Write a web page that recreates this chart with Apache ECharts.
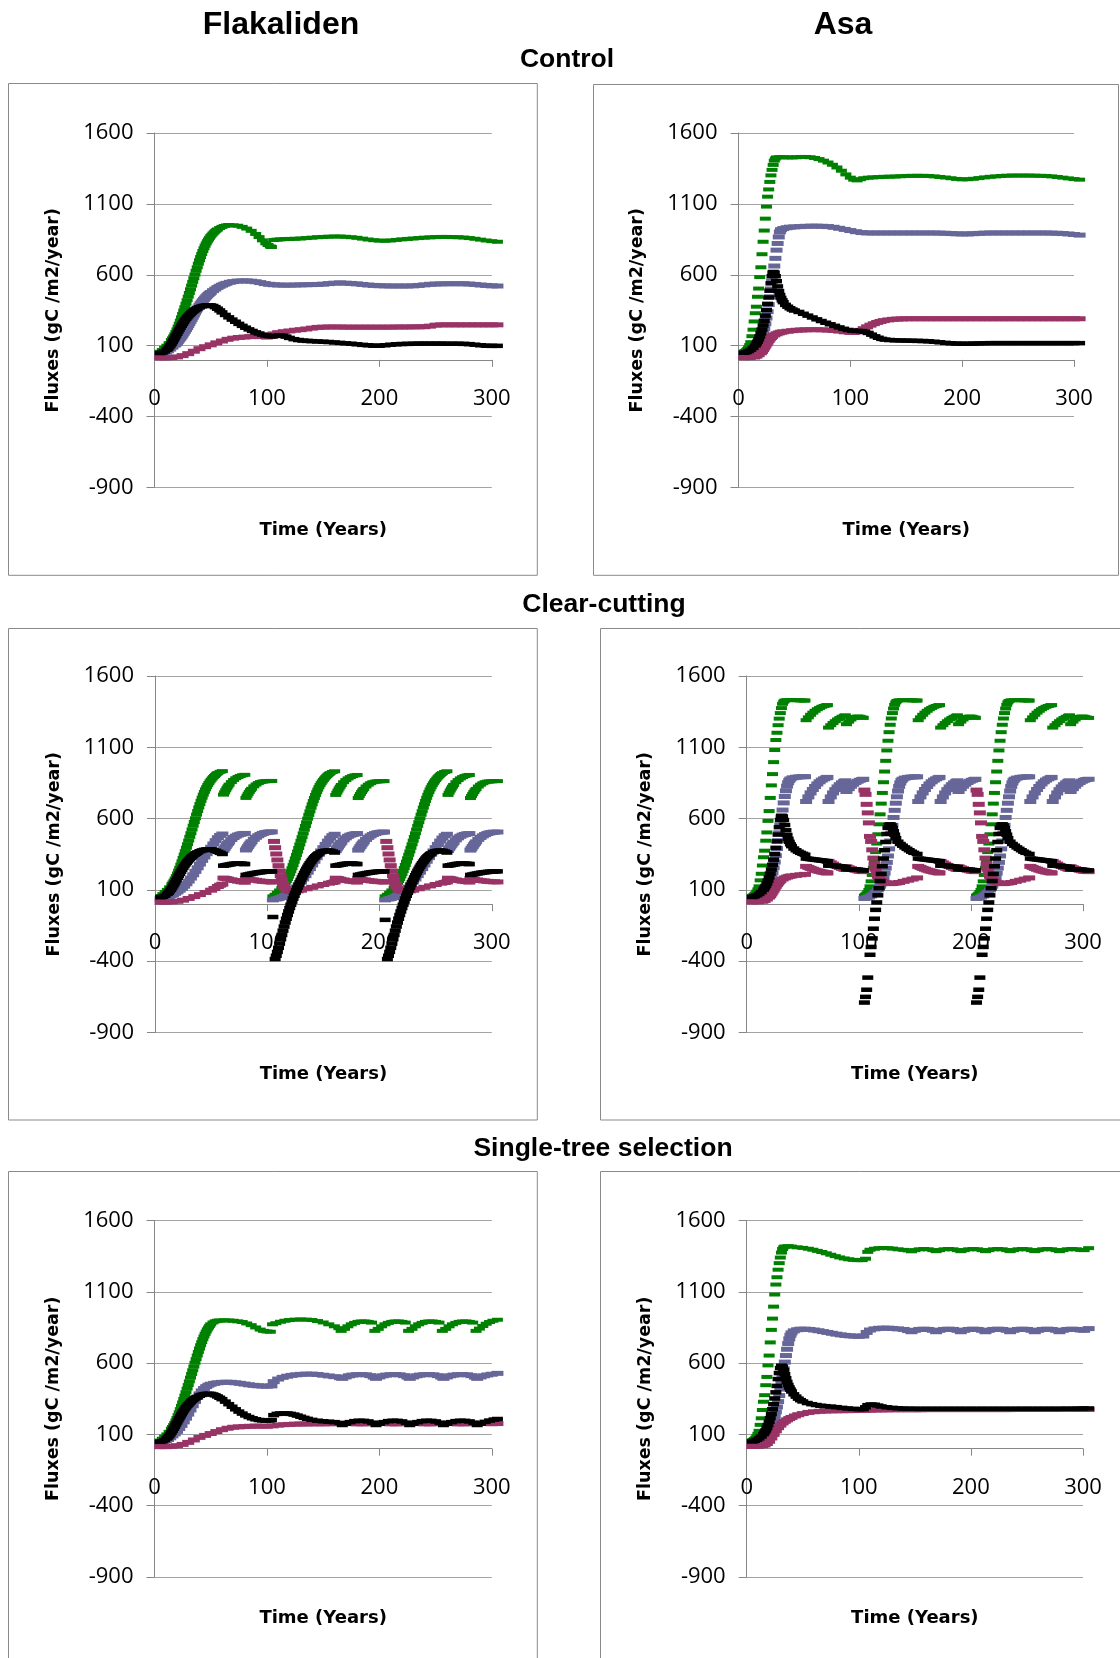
<!DOCTYPE html>
<html>
<head>
<meta charset="utf-8">
<title>Carbon fluxes – Flakaliden and Asa</title>
<script src="https://cdn.jsdelivr.net/npm/echarts@6/dist/echarts.min.js"></script>
<style>
  html, body { margin: 0; padding: 0; background: #ffffff; }
  #chart { width: 1120px; height: 1658px; }
</style>
</head>
<body>
<div id="chart"></div>
<script>
// Axis ranges and ticks shared by every panel
const yMin = -900, yMax = 1600, yStep = 500;
const xMin = 0, xMax = 300, xStep = 100;
const yTickValues = [-900, -400, 100, 600, 1100, 1600];
const xTickValues = [0, 100, 200, 300];

// Series: GPP (green), autotrophic respiration Ra (blue-grey),
// heterotrophic respiration Rh (maroon), NEP (black); gC/m2/year vs year

// ---------- Flakaliden, control ----------
const flCtrlGpp = [[5,57],[7,70],[9,85],[11,100],[13,118],[15,140],[16,152],[17,165],[18,180],[19,197],[20,215],[21,235],[22,255],[23,277],[24,300],[25,324],[26,348],[27,372],[28,396],[29,421],[30,446],[31,472],[32,498],[33,524],[34,550],[35,576],[36,602],[37,628],[38,653],[39,678],[40,702],[41,725],[42,747],[43,768],[44,787],[45,805],[46,821],[47,836],[48,849],[49,861],[50,872],[51,882],[52,891],[53,899],[54,907],[55,914],[56,920],[58,930],[60,938],[62,944],[64,948],[66,951],[70,949],[74,946],[78,938],[82,926],[86,910],[90,888],[93,866],[96,843],[99,822],[101,810],[103,800],[104,796],[106,845],[109,848],[112,850],[116,852],[120,853],[125,854],[130,856],[135,859],[140,862],[145,865],[150,867],[155,869],[160,870],[165,870],[170,868],[175,865],[180,861],[185,855],[190,849],[195,844],[200,841],[205,840],[210,842],[215,846],[220,850],[225,853],[230,856],[235,859],[240,862],[245,864],[250,866],[255,867],[260,867],[265,866],[270,865],[275,863],[280,859],[285,854],[290,848],[295,842],[300,837],[305,833]];
const flCtrlRa = [[5,42],[8,47],[10,54],[12,64],[14,76],[16,90],[18,104],[19,112],[20,121],[21,131],[22,141],[23,152],[24,163],[25,175],[26,188],[27,201],[28,214],[29,228],[30,242],[31,256],[32,271],[33,286],[34,301],[35,316],[36,331],[37,345],[38,359],[39,372],[40,384],[41,396],[42,407],[43,417],[44,427],[45,436],[46,445],[47,453],[48,461],[49,468],[50,475],[52,488],[54,499],[56,510],[58,519],[60,527],[62,534],[64,540],[67,547],[70,552],[74,556],[78,557],[82,557],[86,555],[90,551],[94,545],[98,538],[102,533],[106,530],[110,528],[115,527],[120,527],[125,528],[130,529],[135,530],[140,531],[145,532],[150,534],[155,538],[160,541],[165,543],[170,541],[175,539],[180,536],[185,532],[190,528],[195,525],[200,523],[205,522],[210,521],[215,521],[220,521],[225,521],[230,522],[235,525],[240,529],[245,533],[250,535],[255,536],[260,537],[265,537],[270,537],[275,537],[280,535],[285,532],[290,528],[295,525],[300,522],[305,521]];
const flCtrlRh = [[5,14],[10,14],[15,16],[20,21],[25,30],[30,44],[35,61],[40,79],[45,93],[50,106],[55,120],[60,133],[65,145],[70,153],[75,158],[80,161],[85,164],[90,166],[95,164],[100,161],[103,165],[106,183],[110,192],[115,199],[120,204],[125,209],[130,213],[135,218],[140,224],[145,229],[150,231],[155,232],[160,232],[165,232],[170,231],[175,231],[180,231],[185,231],[190,231],[195,231],[200,231],[205,231],[210,231],[215,232],[220,232],[225,232],[230,233],[235,233],[240,234],[245,238],[250,245],[255,247],[260,247],[265,247],[270,247],[275,247],[280,247],[285,247],[290,247],[295,247],[300,247],[305,247]];
const flCtrlNep = [[5,48],[7,52],[9,60],[11,72],[12,80],[13,90],[14,101],[15,113],[16,126],[17,140],[18,154],[19,169],[20,184],[21,199],[22,213],[23,227],[24,241],[25,254],[26,267],[27,279],[28,290],[29,300],[30,309],[31,318],[32,326],[33,334],[34,341],[35,347],[36,353],[37,358],[38,363],[40,371],[42,377],[44,381],[46,384],[48,385],[50,384],[52,380],[54,372],[56,361],[58,349],[60,335],[63,317],[66,300],[69,284],[72,269],[75,254],[78,240],[81,227],[84,215],[87,204],[90,194],[93,186],[96,178],[99,172],[102,168],[105,166],[108,169],[111,172],[114,170],[117,164],[120,155],[124,146],[128,140],[132,136],[136,134],[140,132],[145,130],[150,128],[155,126],[160,123],[165,120],[170,117],[175,114],[180,110],[185,106],[190,103],[195,100],[200,100],[205,103],[210,107],[215,110],[220,112],[225,113],[230,114],[235,115],[240,115],[245,115],[250,115],[255,115],[260,114],[265,114],[270,114],[275,113],[280,111],[285,107],[290,103],[295,100],[300,99],[305,99]];

// ---------- Asa, control ----------
const asCtrlGpp = [[5,58],[6,62],[7,68],[8,76],[9,88],[10,104],[11,125],[12,167],[13,213],[14,271],[15,329],[16,375],[17,445],[18,503],[19,584],[20,653],[21,745],[22,833],[23,912],[24,996],[25,1081],[26,1151],[27,1202],[28,1255],[29,1301],[30,1340],[31,1375],[32,1405],[33,1420],[34,1428],[37,1430],[40,1429],[44,1428],[48,1428],[52,1429],[56,1431],[60,1431],[64,1429],[68,1424],[72,1416],[76,1405],[80,1392],[84,1376],[88,1357],[92,1334],[96,1308],[100,1285],[103,1271],[106,1266],[109,1274],[112,1281],[116,1285],[120,1287],[125,1289],[130,1291],[135,1292],[140,1293],[145,1295],[150,1297],[155,1298],[160,1298],[165,1298],[170,1297],[175,1294],[180,1290],[185,1286],[190,1281],[195,1276],[200,1273],[205,1274],[210,1277],[215,1282],[220,1287],[225,1291],[230,1294],[235,1297],[240,1299],[245,1300],[250,1300],[255,1300],[260,1300],[265,1299],[270,1298],[275,1297],[280,1294],[285,1290],[290,1285],[295,1280],[300,1275],[305,1271]];
const asCtrlRa = [[5,45],[7,48],[9,53],[11,60],[13,70],[15,84],[17,102],[18,114],[19,128],[20,145],[21,165],[22,190],[23,220],[24,255],[25,295],[26,340],[27,390],[28,445],[29,500],[30,555],[31,610],[32,662],[33,716],[34,774],[35,821],[36,867],[37,902],[38,918],[40,926],[43,932],[46,936],[50,938],[55,940],[60,942],[65,943],[70,943],[75,942],[80,940],[85,935],[90,928],[95,920],[100,912],[105,904],[110,898],[115,895],[120,895],[125,895],[130,895],[135,895],[140,895],[145,895],[150,895],[155,895],[160,895],[165,895],[170,895],[175,895],[180,894],[185,893],[190,891],[195,889],[200,888],[205,888],[210,890],[215,892],[220,894],[225,895],[230,895],[235,895],[240,895],[245,895],[250,895],[255,895],[260,895],[265,895],[270,895],[275,895],[280,894],[285,893],[290,891],[295,888],[300,884],[305,880]];
const asCtrlRh = [[5,15],[10,16],[14,20],[16,26],[18,36],[20,50],[21,60],[22,72],[23,85],[24,98],[25,112],[26,125],[27,137],[28,148],[29,157],[30,165],[32,176],[34,184],[36,190],[38,195],[40,198],[44,202],[48,206],[52,209],[56,211],[60,212],[65,213],[70,213],[75,212],[80,210],[85,207],[90,203],[95,198],[100,194],[103,193],[106,198],[109,208],[112,220],[115,233],[118,245],[121,255],[124,264],[127,271],[130,277],[134,282],[138,286],[142,288],[146,289],[150,290],[155,290],[160,290],[165,290],[170,290],[175,290],[180,290],[185,290],[190,290],[195,290],[200,290],[205,290],[210,290],[215,290],[220,290],[225,290],[230,290],[235,290],[240,290],[245,290],[250,290],[255,290],[260,290],[265,290],[270,290],[275,290],[280,290],[285,290],[290,290],[295,290],[300,290],[305,290]];
const asCtrlNep = [[5,50],[7,55],[9,62],[11,72],[13,85],[15,102],[16,114],[17,128],[18,145],[19,165],[20,188],[21,214],[22,243],[23,276],[24,312],[25,352],[26,395],[27,440],[28,488],[29,540],[30,590],[31,620],[32,615],[33,590],[34,555],[35,518],[36,485],[37,458],[38,437],[39,420],[40,407],[42,388],[44,375],[46,364],[48,355],[50,348],[54,338],[58,325],[62,312],[66,299],[70,286],[74,274],[78,262],[82,251],[86,240],[90,229],[94,219],[98,211],[102,206],[106,204],[110,203],[113,198],[116,190],[119,178],[122,166],[125,156],[128,148],[131,143],[135,140],[140,138],[145,137],[150,136],[155,135],[160,134],[165,133],[170,131],[175,128],[180,124],[185,120],[190,117],[195,115],[200,114],[205,114],[210,115],[215,116],[220,117],[225,118],[230,118],[235,118],[240,118],[245,118],[250,118],[255,118],[260,118],[265,118],[270,118],[275,118],[280,118],[285,118],[290,118],[295,118],[300,118],[305,118]];

// ---------- Flakaliden, clear-cutting (thinnings and a final cut every 100 years) ----------
const flCcGpp = [[5,57],[7,70],[9,85],[11,100],[13,118],[15,140],[16,152],[17,165],[18,180],[19,197],[20,215],[21,235],[22,255],[23,277],[24,300],[25,324],[26,348],[27,372],[28,396],[29,421],[30,446],[31,472],[32,498],[33,524],[34,550],[35,576],[36,602],[37,628],[38,653],[39,678],[40,702],[41,725],[42,747],[43,768],[44,787],[45,805],[46,821],[47,836],[48,849],[49,861],[50,872],[51,882],[52,891],[53,899],[54,907],[55,914],[56,920],[58,928],[60,933],
  [61,768],[62,784],[63,799],[64,813],[65,826],[66,838],[68,856],[70,871],[72,883],[74,892],[76,899],[78,904],[80,907],
  [81,745],[82,760],[83,774],[84,787],[85,799],[86,809],[88,826],[90,839],[92,849],[94,856],[96,860],[98,862],[100,863],[102,864],[104,864],
  [105,55],[107,66],[109,80],[111,96],[113,114],[115,136],[116,148],[117,161],[118,176],[119,193],[120,211],[121,231],[122,252],[123,274],[124,297],[125,321],[126,345],[127,369],[128,394],[129,419],[130,444],[131,470],[132,496],[133,522],[134,548],[135,574],[136,600],[137,626],[138,651],[139,676],[140,700],[141,723],[142,745],[143,766],[144,785],[145,803],[146,820],[147,835],[148,848],[149,860],[150,871],[151,881],[152,890],[153,898],[154,906],[155,913],[156,919],[158,927],[160,932],
  [161,766],[162,782],[163,797],[164,811],[165,824],[166,836],[168,855],[170,870],[172,882],[174,891],[176,898],[178,903],[180,906],
  [181,744],[182,759],[183,773],[184,786],[185,798],[186,808],[188,825],[190,838],[192,848],[194,855],[196,859],[198,861],[200,862],[202,863],[204,863],
  [205,55],[207,66],[209,80],[211,96],[213,115],[215,137],[216,149],[217,162],[218,177],[219,194],[220,212],[221,232],[222,253],[223,275],[224,298],[225,322],[226,346],[227,370],[228,395],[229,420],[230,445],[231,471],[232,497],[233,523],[234,549],[235,575],[236,601],[237,627],[238,652],[239,677],[240,701],[241,724],[242,746],[243,767],[244,786],[245,804],[246,820],[247,835],[248,848],[249,860],[250,871],[251,881],[252,890],[253,898],[254,906],[255,913],[256,919],[258,927],[260,932],
  [261,766],[262,782],[263,797],[264,811],[265,824],[266,836],[268,855],[270,870],[272,882],[274,891],[276,898],[278,903],[280,906],
  [281,744],[282,759],[283,773],[284,786],[285,798],[286,808],[288,825],[290,838],[292,848],[294,855],[296,859],[298,861],[300,862],[302,863],[305,863]];
const flCcRa = [[5,38],[8,42],[10,46],[12,52],[14,58],[16,66],[18,76],[20,86],[22,98],[24,111],[26,126],[28,143],[30,162],[32,183],[34,206],[36,230],[38,255],[40,281],[42,307],[44,331],[46,354],[48,377],[50,399],[52,422],[54,445],[56,466],[58,482],[60,492],
  [61,378],[62,391],[63,403],[64,415],[65,426],[66,436],[68,453],[70,467],[72,477],[74,485],[76,490],[78,494],[80,496],
  [81,380],[82,393],[83,405],[84,417],[85,428],[86,438],[88,455],[90,469],[92,480],[94,489],[96,496],[98,501],[100,504],[102,506],[104,507],
  [105,30],[108,36],[110,40],[112,46],[114,52],[116,60],[118,70],[120,80],[122,92],[124,105],[126,120],[128,137],[130,156],[132,177],[134,200],[136,224],[138,249],[140,275],[142,301],[144,326],[146,350],[148,373],[150,396],[152,419],[154,442],[156,463],[158,480],[160,490],
  [161,376],[162,389],[163,401],[164,413],[165,424],[166,434],[168,451],[170,465],[172,476],[174,484],[176,489],[178,493],[180,495],
  [181,379],[182,392],[183,404],[184,416],[185,427],[186,437],[188,454],[190,468],[192,479],[194,488],[196,495],[198,500],[200,503],[202,505],[204,506],
  [205,30],[208,36],[210,40],[212,46],[214,52],[216,60],[218,70],[220,80],[222,92],[224,105],[226,120],[228,137],[230,156],[232,177],[234,200],[236,224],[238,249],[240,275],[242,301],[244,326],[246,350],[248,373],[250,396],[252,419],[254,442],[256,463],[258,480],[260,490],
  [261,376],[262,389],[263,401],[264,413],[265,424],[266,434],[268,451],[270,465],[272,476],[274,484],[276,489],[278,493],[280,495],
  [281,379],[282,392],[283,404],[284,416],[285,427],[286,437],[288,454],[290,468],[292,479],[294,488],[296,495],[298,500],[300,503],[302,505],[305,506]];
const flCcRh = [[5,14],[10,14],[15,16],[20,20],[25,28],[30,40],[35,53],[40,67],[45,82],[50,98],[53,110],[56,124],[58,133],[60,140],
  [61,183],[63,180],[65,176],[68,171],[71,166],[74,161],[77,157],[80,154],
  [81,181],[84,176],[87,171],[90,167],[93,163],[96,160],[99,158],[102,157],[104,156],
  [105,157],[106,440],[107,396],[108,352],[109,310],[110,270],[111,233],[112,200],[113,170],[114,145],[115,125],[116,110],[117,100],[119,93],[121,90],[124,90],[127,93],[130,98],[135,108],[140,118],[145,128],[150,138],[155,147],[158,152],[160,156],
  [161,182],[163,179],[165,175],[168,170],[171,165],[174,161],[177,158],[180,155],
  [181,180],[184,175],[187,170],[190,166],[193,163],[196,160],[199,158],[202,157],[204,156],
  [205,157],[206,440],[207,396],[208,352],[209,310],[210,270],[211,233],[212,200],[213,170],[214,145],[215,125],[216,110],[217,100],[219,93],[221,90],[224,90],[227,93],[230,98],[235,108],[240,118],[245,128],[250,138],[255,147],[258,152],[260,156],
  [261,182],[263,179],[265,175],[268,170],[271,165],[274,161],[277,158],[280,155],
  [281,180],[284,175],[287,170],[290,166],[293,163],[296,160],[299,158],[302,157],[305,156]];
const flCcNep = [[5,48],[7,52],[9,60],[11,72],[12,80],[13,90],[14,101],[15,113],[16,126],[17,140],[18,154],[19,169],[20,184],[21,199],[22,213],[23,227],[24,241],[25,254],[26,267],[27,279],[28,290],[29,300],[30,309],[31,318],[32,326],[33,334],[34,341],[35,347],[36,353],[37,358],[38,363],[40,371],[42,377],[44,381],[46,384],[48,385],[50,384],[52,380],[54,374],[56,367],[58,360],[60,352],
  [61,270],[63,273],[65,276],[67,279],[69,282],[71,284],[73,285],[75,285],[77,284],[79,282],[80,281],
  [81,205],[83,208],[85,212],[87,215],[89,218],[91,221],[93,223],[95,225],[97,227],[99,228],[101,229],[103,230],[104,230],
  [105,-90],[107,-385],[108,-362],[109,-335],[110,-306],[111,-276],[112,-246],[113,-216],[114,-186],[115,-157],[116,-129],[117,-102],[118,-76],[119,-51],[120,-27],[121,-4],[122,18],[123,39],[124,59],[125,79],[126,98],[127,117],[128,135],[129,153],[130,170],[131,187],[132,203],[133,219],[134,234],[135,248],[136,262],[137,275],[138,287],[139,298],[140,309],[141,319],[142,328],[143,336],[144,343],[145,350],[146,356],[148,365],[150,371],[152,375],[154,376],[156,374],[158,369],[160,362],
  [161,270],[163,273],[165,276],[167,279],[169,282],[171,284],[173,285],[175,285],[177,284],[179,282],[180,281],
  [181,205],[183,208],[185,212],[187,215],[189,218],[191,221],[193,223],[195,225],[197,227],[199,228],[201,229],[203,230],[204,230],
  [205,-110],[207,-385],[208,-362],[209,-335],[210,-306],[211,-276],[212,-246],[213,-216],[214,-186],[215,-157],[216,-129],[217,-102],[218,-76],[219,-51],[220,-27],[221,-4],[222,18],[223,39],[224,59],[225,79],[226,98],[227,117],[228,135],[229,153],[230,170],[231,187],[232,203],[233,219],[234,234],[235,248],[236,262],[237,275],[238,287],[239,298],[240,309],[241,319],[242,328],[243,336],[244,343],[245,350],[246,356],[248,365],[250,371],[252,375],[254,376],[256,374],[258,369],[260,362],
  [261,270],[263,273],[265,276],[267,279],[269,282],[271,284],[273,285],[275,285],[277,284],[279,282],[280,281],
  [281,205],[283,208],[285,212],[287,215],[289,218],[291,221],[293,223],[295,225],[297,227],[299,228],[301,229],[303,230],[305,230]];

// ---------- Asa, clear-cutting ----------
const asCcGpp = [[5,58],[6,62],[7,68],[8,76],[9,88],[10,104],[11,125],[12,167],[13,213],[14,271],[15,329],[16,375],[17,445],[18,503],[19,584],[20,653],[21,745],[22,833],[23,912],[24,996],[25,1081],[26,1151],[27,1202],[28,1255],[29,1301],[30,1340],[31,1375],[32,1405],[33,1420],[34,1428],[36,1431],[39,1432],[42,1431],[45,1430],[48,1429],[51,1428],[52,1428],
  [53,1290],[55,1310],[57,1328],[59,1343],[61,1356],[63,1367],[65,1376],[67,1384],[69,1390],[71,1394],[72,1396],
  [73,1238],[75,1255],[77,1270],[79,1283],[81,1295],[83,1305],[85,1314],[87,1321],[88,1324],
  [89,1262],[91,1280],[93,1295],[95,1306],[97,1313],[99,1316],[101,1314],[103,1309],[104,1306],
  [105,60],[106,66],[107,74],[108,85],[109,100],[110,125],[111,160],[112,205],[113,255],[114,310],[115,365],[116,425],[117,490],[118,560],[119,630],[120,705],[121,780],[122,855],[123,930],[124,1005],[125,1078],[126,1146],[127,1206],[128,1258],[129,1302],[130,1340],[131,1372],[132,1398],[133,1415],[134,1425],[136,1430],[139,1431],[142,1431],[145,1430],[148,1429],[151,1428],[152,1428],
  [153,1290],[155,1310],[157,1328],[159,1343],[161,1356],[163,1367],[165,1376],[167,1384],[169,1390],[171,1394],[172,1396],
  [173,1238],[175,1255],[177,1270],[179,1283],[181,1295],[183,1305],[185,1314],[187,1321],[188,1324],
  [189,1262],[191,1280],[193,1295],[195,1306],[197,1313],[199,1316],[201,1314],[203,1309],[204,1306],
  [205,60],[206,66],[207,74],[208,85],[209,100],[210,125],[211,160],[212,205],[213,255],[214,310],[215,365],[216,425],[217,490],[218,560],[219,630],[220,705],[221,780],[222,855],[223,930],[224,1005],[225,1078],[226,1146],[227,1206],[228,1258],[229,1302],[230,1340],[231,1372],[232,1398],[233,1415],[234,1425],[236,1430],[239,1431],[242,1431],[245,1430],[248,1429],[251,1428],[252,1428],
  [253,1290],[255,1310],[257,1328],[259,1343],[261,1356],[263,1367],[265,1376],[267,1384],[269,1390],[271,1394],[272,1396],
  [273,1238],[275,1255],[277,1270],[279,1283],[281,1295],[283,1305],[285,1314],[287,1321],[288,1324],
  [289,1262],[291,1280],[293,1295],[295,1306],[297,1313],[299,1316],[301,1314],[303,1309],[305,1306]];
const asCcRa = [[5,45],[7,48],[9,53],[11,60],[13,70],[15,84],[17,102],[18,114],[19,128],[20,145],[21,165],[22,190],[23,220],[24,255],[25,295],[26,340],[27,390],[28,445],[29,500],[30,555],[31,610],[32,660],[33,710],[34,755],[35,795],[36,828],[37,852],[38,868],[39,878],[41,886],[44,890],[47,893],[50,894],[52,894],
  [53,720],[55,752],[57,780],[59,804],[61,825],[63,843],[65,858],[67,870],[69,879],[71,886],[72,889],
  [73,720],[75,752],[77,780],[79,803],[81,822],[83,838],[85,851],[87,861],[88,865],
  [89,790],[91,810],[93,827],[95,841],[97,853],[99,862],[101,869],[103,874],[104,876],
  [105,40],[107,44],[109,50],[111,58],[113,68],[115,82],[117,100],[118,112],[119,126],[120,143],[121,163],[122,188],[123,218],[124,253],[125,293],[126,338],[127,388],[128,443],[129,498],[130,553],[131,608],[132,658],[133,708],[134,753],[135,793],[136,826],[137,850],[138,866],[139,876],[141,884],[144,889],[147,892],[150,893],[152,893],
  [153,720],[155,752],[157,780],[159,804],[161,825],[163,843],[165,858],[167,870],[169,879],[171,886],[172,889],
  [173,720],[175,752],[177,780],[179,803],[181,822],[183,838],[185,851],[187,861],[188,865],
  [189,790],[191,810],[193,827],[195,841],[197,853],[199,862],[201,869],[203,874],[204,876],
  [205,40],[207,44],[209,50],[211,58],[213,68],[215,82],[217,100],[218,112],[219,126],[220,143],[221,163],[222,188],[223,218],[224,253],[225,293],[226,338],[227,388],[228,443],[229,498],[230,553],[231,608],[232,658],[233,708],[234,753],[235,793],[236,826],[237,850],[238,866],[239,876],[241,884],[244,889],[247,892],[250,893],[252,893],
  [253,720],[255,752],[257,780],[259,804],[261,825],[263,843],[265,858],[267,870],[269,879],[271,886],[272,889],
  [273,720],[275,752],[277,780],[279,803],[281,822],[283,838],[285,851],[287,861],[288,865],
  [289,790],[291,810],[293,827],[295,841],[297,853],[299,862],[301,869],[303,874],[305,876]];
const asCcRh = [[5,15],[10,16],[14,20],[16,26],[18,36],[20,50],[21,60],[22,72],[23,85],[24,98],[25,112],[26,125],[27,137],[28,148],[29,157],[30,165],[32,176],[34,184],[36,190],[38,195],[40,198],[44,202],[48,206],[52,209],
  [53,265],[55,258],[57,251],[59,245],[61,239],[63,234],[65,230],[67,226],[69,223],[71,220],[72,219],
  [73,300],[75,290],[77,281],[79,272],[81,264],[83,257],[85,251],[87,246],[88,244],
  [89,262],[91,255],[93,249],[95,243],[97,238],[99,234],[101,231],[103,229],[104,228],
  [105,800],[106,770],[107,700],[108,640],[109,570],[110,475],[111,440],[112,381],[113,323],[114,280],[115,245],[116,215],[117,195],[118,180],[120,166],[122,156],[124,150],[126,146],[128,144],[130,145],[133,148],[136,152],[140,160],[144,168],[148,176],[152,184],
  [153,265],[155,258],[157,251],[159,245],[161,239],[163,234],[165,230],[167,226],[169,223],[171,220],[172,219],
  [173,300],[175,290],[177,281],[179,272],[181,264],[183,257],[185,251],[187,246],[188,244],
  [189,262],[191,255],[193,249],[195,243],[197,238],[199,234],[201,231],[203,229],[204,228],
  [205,800],[206,770],[207,700],[208,640],[209,570],[210,475],[211,440],[212,381],[213,323],[214,280],[215,245],[216,215],[217,195],[218,180],[220,166],[222,156],[224,150],[226,146],[228,144],[230,145],[233,148],[236,152],[240,160],[244,168],[248,176],[252,184],
  [253,265],[255,258],[257,251],[259,245],[261,239],[263,234],[265,230],[267,226],[269,223],[271,220],[272,219],
  [273,300],[275,290],[277,281],[279,272],[281,264],[283,257],[285,251],[287,246],[288,244],
  [289,262],[291,255],[293,249],[295,243],[297,238],[299,234],[301,231],[303,229],[305,228]];
const asCcNep = [[5,50],[7,55],[9,62],[11,72],[13,85],[15,102],[16,114],[17,128],[18,145],[19,165],[20,188],[21,214],[22,243],[23,276],[24,312],[25,352],[26,395],[27,440],[28,488],[29,540],[30,590],[31,620],[32,615],[33,590],[34,555],[35,518],[36,485],[37,458],[38,437],[39,420],[40,407],[42,390],[44,378],[46,368],[48,360],[50,353],[52,347],
  [53,320],[55,318],[57,316],[59,314],[61,312],[63,310],[65,308],[67,306],[69,304],[71,302],[72,301],
  [73,270],[75,270],[77,269],[79,268],[81,267],[83,265],[85,263],[87,261],[88,260],
  [89,245],[91,245],[93,245],[95,244],[97,243],[99,242],[101,240],[103,238],[104,237],
  [105,-690],[106,-650],[107,-600],[108,-515],[110,-355],[111,-300],[112,-240],[113,-172],[114,-102],[115,-40],[116,12],[117,62],[118,112],[119,162],[120,212],[121,266],[122,320],[123,378],[124,436],[125,492],[126,535],[127,556],[128,560],[129,552],[130,535],[131,512],[132,487],[133,463],[135,438],[137,422],[139,410],[141,398],[143,388],[145,378],[147,368],[149,360],[152,352],
  [153,320],[155,318],[157,316],[159,314],[161,312],[163,310],[165,308],[167,306],[169,304],[171,302],[172,301],
  [173,270],[175,270],[177,269],[179,268],[181,267],[183,265],[185,263],[187,261],[188,260],
  [189,245],[191,245],[193,245],[195,244],[197,243],[199,242],[201,240],[203,238],[204,237],
  [205,-690],[206,-650],[207,-600],[208,-515],[210,-355],[211,-300],[212,-240],[213,-172],[214,-102],[215,-40],[216,12],[217,62],[218,112],[219,162],[220,212],[221,266],[222,320],[223,378],[224,436],[225,492],[226,535],[227,556],[228,560],[229,552],[230,535],[231,512],[232,487],[233,463],[235,438],[237,422],[239,410],[241,398],[243,388],[245,378],[247,368],[249,360],[252,352],
  [253,320],[255,318],[257,316],[259,314],[261,312],[263,310],[265,308],[267,306],[269,304],[271,302],[272,301],
  [273,270],[275,270],[277,269],[279,268],[281,267],[283,265],[285,263],[287,261],[288,260],
  [289,245],[291,245],[293,245],[295,244],[297,243],[299,242],[301,240],[303,238],[305,237]];

// ---------- Flakaliden, single-tree selection ----------
const flStsGpp = [[5,57],[7,70],[9,85],[11,100],[13,118],[15,140],[16,152],[17,165],[18,180],[19,197],[20,215],[21,235],[22,255],[23,277],[24,300],[25,324],[26,348],[27,372],[28,396],[29,421],[30,446],[31,472],[32,498],[33,524],[34,550],[35,576],[36,602],[37,628],[38,653],[39,678],[40,702],[41,725],[42,747],[43,768],[44,787],[45,805],[46,821],[47,836],[48,849],[49,861],[50,872],[52,885],[54,893],[56,897],[58,899],[62,900],[66,899],[70,897],[74,893],[78,888],[82,878],[86,866],[90,850],[94,835],[97,826],[100,822],[103,820],[105,872],[108,880],[112,890],[116,897],[120,902],[125,905],[130,906],[135,905],[140,902],[145,895],[150,885],[155,872],[160,858],[164,845],
  [166,826],[169,840],[172,858],[175,872],[178,882],[181,889],[184,892],[187,892],[190,889],[193,884],
  [196,826],[199,840],[202,858],[205,872],[208,882],[211,889],[214,892],[217,892],[220,889],[223,884],
  [226,826],[229,840],[232,858],[235,872],[238,882],[241,889],[244,892],[247,892],[250,889],[253,884],
  [256,826],[259,840],[262,858],[265,872],[268,882],[271,889],[274,892],[277,892],[280,889],[283,884],
  [286,826],[289,842],[292,860],[295,876],[298,888],[301,897],[305,904]];
const flStsRa = [[5,42],[8,47],[10,54],[12,64],[14,76],[16,90],[18,104],[20,121],[22,141],[24,163],[26,188],[28,214],[30,242],[32,271],[34,301],[36,331],[38,359],[40,384],[42,405],[44,422],[46,435],[48,445],[50,452],[53,458],[56,462],[60,465],[64,466],[68,465],[72,462],[76,458],[80,453],[84,448],[88,444],[92,441],[96,439],[100,438],[104,440],[106,470],[110,488],[114,500],[118,508],[122,514],[126,518],[130,521],[135,523],[140,523],[145,520],[150,515],[155,510],[160,505],[165,498],
  [167,493],[170,503],[173,511],[176,516],[180,519],[184,520],[188,518],[192,512],[195,502],
  [197,493],[200,503],[203,511],[206,516],[210,519],[214,520],[218,518],[222,512],[225,502],
  [227,493],[230,503],[233,511],[236,516],[240,519],[244,520],[248,518],[252,512],[255,502],
  [257,493],[260,503],[263,511],[266,516],[270,519],[274,520],[278,518],[282,512],[285,502],
  [287,493],[290,503],[293,511],[296,517],[300,522],[305,528]];
const flStsRh = [[5,14],[10,14],[15,16],[20,21],[25,30],[30,44],[35,61],[40,79],[45,93],[50,106],[55,120],[60,133],[65,143],[70,150],[75,153],[80,155],[85,157],[90,158],[95,158],[100,157],[105,160],[110,165],[115,168],[120,170],[125,172],[130,173],[135,173],[140,174],[145,174],[150,174],[155,175],[160,175],[165,176],[170,178],[175,176],[180,174],[185,174],[190,175],[195,176],[200,178],[205,176],[210,174],[215,174],[220,175],[225,176],[230,178],[235,176],[240,174],[245,174],[250,175],[255,176],[260,178],[265,176],[270,174],[275,174],[280,175],[285,176],[290,178],[295,176],[300,175],[305,176]];
const flStsNep = [[5,48],[7,52],[9,60],[11,72],[12,80],[13,90],[14,101],[15,113],[16,126],[17,140],[18,154],[19,169],[20,184],[21,199],[22,213],[23,227],[24,241],[25,254],[26,267],[27,279],[28,290],[29,300],[30,309],[31,318],[32,326],[33,334],[34,341],[35,347],[36,353],[37,358],[38,363],[40,371],[42,377],[44,381],[46,384],[48,385],[50,384],[52,380],[54,374],[56,366],[58,357],[60,347],[63,330],[66,312],[69,294],[72,276],[75,260],[78,246],[81,233],[84,222],[87,213],[90,206],[93,201],[96,198],[99,197],[102,198],[104,200],[106,235],[109,244],[112,247],[115,248],[118,247],[121,244],[124,239],[127,232],[130,224],[133,216],[136,209],[140,202],[145,196],[150,192],[155,189],[160,186],[165,180],
  [167,166],[170,175],[174,186],[178,193],[182,196],[186,195],[190,191],[194,182],
  [197,166],[200,175],[204,186],[208,193],[212,196],[216,195],[220,191],[224,182],
  [227,166],[230,175],[234,186],[238,193],[242,196],[246,195],[250,191],[254,182],
  [257,166],[260,175],[264,186],[268,193],[272,196],[276,195],[280,191],[284,182],
  [287,166],[290,176],[294,188],[298,197],[302,204],[305,208]];

// ---------- Asa, single-tree selection ----------
const asStsGpp = [[5,58],[6,62],[7,68],[8,76],[9,88],[10,104],[11,125],[12,167],[13,213],[14,271],[15,329],[16,375],[17,445],[18,503],[19,584],[20,653],[21,745],[22,833],[23,912],[24,996],[25,1081],[26,1151],[27,1202],[28,1255],[29,1301],[30,1340],[31,1375],[32,1400],[33,1412],[34,1418],[37,1420],[40,1417],[45,1412],[50,1408],[55,1402],[59,1395],[63,1387],[67,1379],[71,1370],[75,1360],[79,1350],[83,1341],[87,1334],[91,1328],[95,1324],[99,1322],[103,1322],[106,1332],[108,1380],[110,1395],[114,1402],[118,1406],[122,1407],[126,1406],[130,1403],[135,1398],[140,1394],[144,1390],[147,1384],
  [150,1392],[154,1398],[158,1400],[162,1398],[166,1392],[169,1385],
  [172,1392],[176,1398],[180,1400],[184,1398],[188,1392],[191,1385],
  [194,1392],[198,1398],[202,1400],[206,1398],[210,1392],[213,1385],
  [216,1392],[220,1398],[224,1400],[228,1398],[232,1392],[235,1385],
  [238,1392],[242,1398],[246,1400],[250,1398],[254,1392],[257,1385],
  [260,1392],[264,1398],[268,1400],[272,1398],[276,1392],[279,1385],
  [282,1392],[286,1398],[290,1400],[294,1398],[298,1394],[301,1392],[305,1406]];
const asStsRa = [[5,45],[7,48],[9,53],[11,60],[13,70],[15,84],[17,100],[19,120],[20,132],[21,146],[22,162],[23,180],[24,202],[25,228],[26,258],[27,292],[28,330],[29,372],[30,418],[31,465],[32,512],[33,560],[34,607],[35,653],[36,697],[37,737],[38,770],[39,795],[40,812],[42,826],[45,834],[48,838],[52,838],[56,836],[60,832],[64,827],[68,821],[72,815],[76,809],[80,803],[84,798],[88,794],[92,791],[96,789],[100,788],[104,790],[107,815],[110,832],[114,840],[118,844],[122,845],[126,845],[130,843],[135,840],[140,836],[144,828],[147,820],
  [150,830],[154,836],[158,838],[162,836],[166,830],[169,820],
  [172,830],[176,836],[180,838],[184,836],[188,830],[191,820],
  [194,830],[198,836],[202,838],[206,836],[210,830],[213,820],
  [216,830],[220,836],[224,838],[228,836],[232,830],[235,820],
  [238,830],[242,836],[246,838],[250,836],[254,830],[257,820],
  [260,830],[264,836],[268,838],[272,836],[276,830],[279,820],
  [282,830],[286,836],[290,838],[294,836],[298,832],[301,830],[305,842]];
const asStsRh = [[5,15],[10,16],[14,20],[16,26],[18,36],[20,52],[22,75],[24,100],[26,125],[28,147],[30,165],[32,180],[34,192],[36,202],[38,211],[40,219],[43,229],[46,238],[50,246],[55,254],[60,259],[65,262],[70,264],[75,265],[80,266],[85,266],[90,267],[95,267],[100,268],[105,269],[110,270],[115,271],[120,272],[125,272],[130,273],[135,273],[140,273],[145,273],[150,273],[155,273],[160,274],[165,274],[170,274],[175,274],[180,274],[185,274],[190,274],[195,274],[200,274],[205,274],[210,274],[215,274],[220,274],[225,274],[230,274],[235,274],[240,275],[245,275],[250,275],[255,275],[260,275],[265,275],[270,275],[275,275],[280,275],[285,275],[290,275],[295,275],[300,275],[305,275]];
const asStsNep = [[5,50],[7,55],[9,62],[11,72],[13,85],[15,102],[16,114],[17,128],[18,145],[19,165],[20,188],[21,214],[22,243],[23,276],[24,312],[25,352],[26,395],[27,440],[28,488],[29,530],[30,565],[31,582],[32,575],[33,552],[34,523],[35,494],[36,468],[37,447],[38,429],[39,414],[40,401],[42,381],[44,365],[46,351],[48,340],[50,331],[54,320],[58,312],[62,306],[66,301],[70,298],[75,295],[80,291],[85,286],[90,282],[95,279],[100,277],[104,277],[106,290],[108,305],[111,310],[114,308],[117,302],[120,296],[125,290],[130,286],[135,283],[140,281],[145,280],[150,280],[155,279],[160,280],[165,279],[170,280],[175,279],[180,280],[185,279],[190,280],[195,279],[200,280],[205,279],[210,280],[215,279],[220,280],[225,279],[230,280],[235,279],[240,280],[245,279],[250,280],[255,279],[260,280],[265,279],[270,280],[275,279],[280,280],[285,280],[290,280],[295,281],[300,282],[305,282]];

// Panel layout (pixel geometry of each plot and its frame)
const panels = [
  { grid: { left: 154.5, top: 133, width: 337.3, height: 354.5 }, frame: [8.5, 83.5, 528.8, 491.8], data: [flCtrlGpp, flCtrlRa, flCtrlRh, flCtrlNep] },
  { grid: { left: 738.5, top: 133, width: 335.5, height: 354.5 }, frame: [593.5, 84.5, 525, 490.8], data: [asCtrlGpp, asCtrlRa, asCtrlRh, asCtrlNep] },
  { grid: { left: 155, top: 676, width: 336.8, height: 356.5 }, frame: [8.5, 628.5, 528.8, 491.5], data: [flCcGpp, flCcRa, flCcRh, flCcNep] },
  { grid: { left: 746.7, top: 676, width: 336.3, height: 356.5 }, frame: [600.5, 628.5, 540, 491.5], data: [asCcGpp, asCcRa, asCcRh, asCcNep] },
  { grid: { left: 154.5, top: 1220.5, width: 337.3, height: 356.5 }, frame: [8.5, 1171.5, 528.8, 520], data: [flStsGpp, flStsRa, flStsRh, flStsNep] },
  { grid: { left: 746.7, top: 1220.5, width: 336.3, height: 356.5 }, frame: [600.5, 1171.5, 540, 520], data: [asStsGpp, asStsRa, asStsRh, asStsNep] }
];

const seriesColors = ['#008000', '#666699', '#993366', '#000000'];
const markerSizes = [[11, 4], [12, 5], [12, 5], [11, 4.5]];

const axisGrey = '#878787';
const gridGrey = '#a3a3a3';
const tickFont = '"Open Sans", "Liberation Sans", sans-serif';
const nameFont = '"DejaVu Sans", "Liberation Sans", sans-serif';
const plainNumber = v => String(v);

const grids = [], xAxes = [], yAxes = [], series = [], graphics = [];

panels.forEach((p, i) => {
  grids.push(Object.assign({ containLabel: false, outerBoundsMode: 'none' }, p.grid));
  // the time axis crosses the flux axis at zero: shift it up from the grid bottom
  const zeroShift = -p.grid.height * (0 - yMin) / (yMax - yMin);
  xAxes.push({
    gridIndex: i, type: 'value', min: xMin, max: xMax, interval: xStep,
    position: 'bottom', offset: zeroShift,
    axisLine: { show: true, onZero: false, lineStyle: { color: axisGrey, width: 1 } },
    axisTick: { show: true, length: 7, inside: false, lineStyle: { color: axisGrey } },
    axisLabel: { show: true, margin: 28, fontSize: 22, fontFamily: tickFont, color: '#000', showMinLabel: true, showMaxLabel: true, formatter: plainNumber },
    splitLine: { show: false },
    name: 'Time (Years)', nameLocation: 'middle', nameGap: 161,
    nameTextStyle: { fontSize: 18, fontWeight: 'bold', fontFamily: nameFont, color: '#000' }
  });
  yAxes.push({
    gridIndex: i, type: 'value', min: yMin, max: yMax, interval: yStep,
    position: 'left',
    axisLine: { show: true, onZero: false, lineStyle: { color: axisGrey, width: 1 } },
    axisTick: { show: true, length: 8, inside: false, lineStyle: { color: axisGrey } },
    axisLabel: { show: true, margin: 21, fontSize: 22, fontFamily: tickFont, color: '#000', showMinLabel: true, showMaxLabel: true, formatter: plainNumber },
    splitLine: { show: true, lineStyle: { color: gridGrey, width: 1 } },
    name: 'Fluxes (gC /m2/year)', nameLocation: 'middle', nameGap: 92, nameRotate: 90,
    nameTextStyle: { fontSize: 17.5, fontWeight: 'bold', fontFamily: nameFont, color: '#000' }
  });
  p.data.forEach((d, k) => {
    series.push({
      type: 'scatter', xAxisIndex: i, yAxisIndex: i, data: d,
      symbol: 'rect', symbolSize: markerSizes[k],
      itemStyle: { color: seriesColors[k], opacity: 1 },
      clip: false, silent: true, animation: false, z: 2 + k
    });
  });
  const f = p.frame;
  graphics.push({
    type: 'rect', z: -10, silent: true,
    shape: { x: f[0], y: f[1], width: f[2], height: f[3] },
    style: { fill: 'none', stroke: '#8a8a8a', lineWidth: 1 }
  });
});

// Site names and treatment headings
const headings = [
  { text: 'Flakaliden', x: 281, y: 25, size: 32 },
  { text: 'Asa', x: 843, y: 25, size: 32 },
  { text: 'Control', x: 567, y: 60, size: 26.5 },
  { text: 'Clear-cutting', x: 604, y: 605, size: 26.5 },
  { text: 'Single-tree selection', x: 603, y: 1149, size: 26.5 }
];
headings.forEach(h => {
  graphics.push({
    type: 'text', silent: true, z: 10,
    x: h.x, y: h.y,
    style: {
      text: h.text, x: 0, y: 0, textAlign: 'center', textVerticalAlign: 'middle',
      font: 'bold ' + h.size + 'px "Liberation Sans", Arial, sans-serif', fill: '#000'
    }
  });
});

const chart = echarts.init(document.getElementById('chart'), null, { renderer: 'canvas', width: 1120, height: 1658 });
chart.setOption({
  animation: false,
  backgroundColor: '#ffffff',
  grid: grids,
  xAxis: xAxes,
  yAxis: yAxes,
  series: series,
  graphic: { elements: graphics }
});
</script>
</body>
</html>
